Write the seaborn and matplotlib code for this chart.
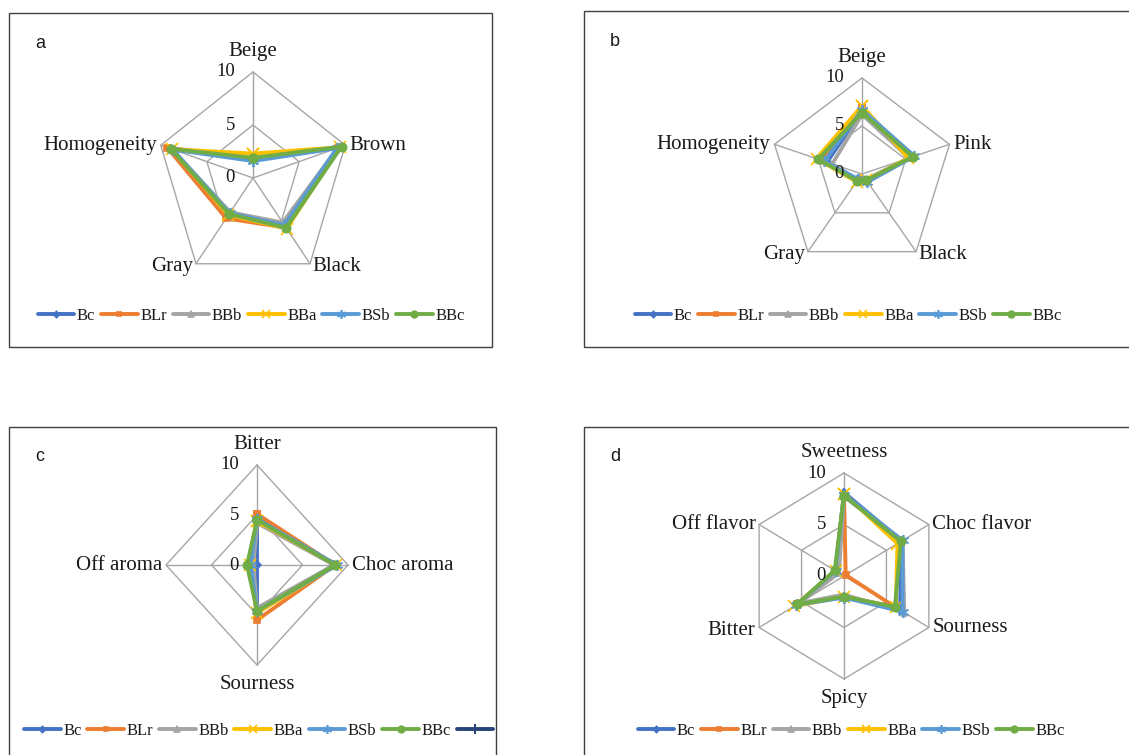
import numpy as np
import pandas as pd
import matplotlib
matplotlib.use('Agg')
import matplotlib.pyplot as plt
from matplotlib.lines import Line2D
from matplotlib.patches import Rectangle
import seaborn as sns

# samples, in Excel series order
samples = ['Bc', 'BLr', 'BBb', 'BBa', 'BSb', 'BBc']

# panel a - colour attributes
a_attrs = ['Beige', 'Brown', 'Black', 'Gray', 'Homogeneity']
a_Bc = [1.7, 9.3, 5.4, 4.2, 8.9]
a_BLr = [1.8, 9.2, 5.8, 4.7, 9.3]
a_BBb = [1.8, 9.2, 5.2, 4.0, 8.8]
a_BBa = [2.3, 9.4, 5.9, 4.3, 8.8]
a_BSb = [1.6, 9.1, 5.5, 4.1, 8.7]
a_BBc = [1.9, 9.6, 5.8, 4.2, 8.9]

# panel b
b_attrs = ['Beige', 'Pink', 'Black', 'Gray', 'Homogeneity']
b_Bc = [6.6, 5.6, 1.0, 0.7, 4.0]
b_BLr = [6.9, 5.5, 0.8, 0.8, 4.6]
b_BBb = [6.2, 5.4, 0.7, 0.8, 3.4]
b_BBa = [7.1, 5.3, 0.8, 1.0, 5.2]
b_BSb = [6.7, 6.0, 1.0, 0.7, 4.3]
b_BBc = [6.4, 5.8, 0.8, 0.9, 5.0]

# panel c - aroma
c_attrs = ['Bitter', 'Choc aroma', 'Sourness', 'Off aroma']
c_Bc = [4.7, 8.5, 4.5, 0.0]
c_BLr = [5.1, 8.6, 5.5, 0.6]
c_BBb = [4.2, 8.5, 4.3, 0.4]
c_BBa = [4.4, 8.7, 4.8, 0.8]
c_BSb = [4.6, 8.8, 4.6, 0.7]
c_BBc = [4.5, 8.6, 4.6, 1.1]

# panel d - flavour
d_attrs = ['Sweetness', 'Choc flavor', 'Sourness', 'Spicy', 'Bitter', 'Off flavor']
d_Bc = [8.1, 6.8, 6.6, 2.0, 5.5, 1.0]
d_BLr = [7.9, 0.2, 6.0, 2.0, 5.5, 1.0]
d_BBb = [7.7, 6.9, 7.1, 1.8, 5.3, 0.6]
d_BBa = [8.0, 6.3, 6.1, 2.0, 5.9, 1.0]
d_BSb = [7.9, 6.9, 6.9, 2.1, 5.6, 1.0]
d_BBc = [7.8, 6.7, 6.0, 2.0, 5.5, 1.1]

ticks = [0, 5, 10]

colors = {'Bc': '#4472C4', 'BLr': '#ED7D31', 'BBb': '#A5A5A5',
          'BBa': '#FFC000', 'BSb': '#5B9BD5', 'BBc': '#70AD47'}
markers = {'Bc': 'D', 'BLr': 's', 'BBb': '^', 'BBa': 'x', 'BSb': (6, 2, 0), 'BBc': 'o'}
msizes = {'Bc': 4, 'BLr': 4, 'BBb': 5, 'BBa': 8, 'BSb': 8, 'BBc': 6}

sns.set_theme(style='white')
plt.rcParams['font.family'] = ['Liberation Serif', 'DejaVu Serif']

W, H = 1129, 755
fig = plt.figure(figsize=(W / 100, H / 100), dpi=100)
GRID = '#A6A6A6'
TXT = '#1a1a1a'


def closed_df(vals):
    n = len(vals)
    th = [2 * np.pi * i / n for i in range(n)] + [2 * np.pi]
    return pd.DataFrame({'theta': th, 'value': list(vals) + [vals[0]]})


def radar(cx, cy, rx, ry, attrs, series, letter, box, leg_y, leg_x, extra=False):
    # panel frame
    x0, y0, x1, y1 = box
    fig.patches.append(Rectangle((x0 / W, 1 - y1 / H), (x1 - x0) / W, (y1 - y0) / H,
                                 transform=fig.transFigure, fill=False,
                                 edgecolor='#404040', lw=1.0))
    fig.text((x0 + 26) / W, 1 - (y0 + 30) / H, letter, family='Liberation Sans',
             fontsize=13, ha='left', va='center', color=TXT)

    ax = fig.add_axes([(cx - rx) / W, 1 - (cy + ry) / H, 2 * rx / W, 2 * ry / H],
                      projection='polar')
    ax.set_aspect('auto')
    ax.set_theta_zero_location('N')
    ax.set_theta_direction(-1)
    ax.grid(False)
    ax.spines['polar'].set_visible(False)
    ax.patch.set_alpha(0)

    n = len(attrs)
    th = [2 * np.pi * i / n for i in range(n)] + [2 * np.pi]
    for r in ticks[1:]:
        ax.plot(th, [r] * (n + 1), color=GRID, lw=1, clip_on=False, zorder=1)
    for t in th[:-1]:
        ax.plot([t, t], [0, 10], color=GRID, lw=1, clip_on=False, zorder=1)

    for s, vals in zip(samples, series):
        sns.lineplot(data=closed_df(vals), x='theta', y='value', sort=False,
                     estimator=None, color=colors[s], marker=markers[s], lw=2.8,
                     markersize=msizes[s], markeredgewidth=1.2,
                     markeredgecolor=colors[s], ax=ax, zorder=3, clip_on=False)
    ax.set_xlabel('')
    ax.set_ylabel('')
    ax.set_ylim(0, 10)
    ax.set_xticks([])
    ax.set_yticks([])

    for r in ticks:
        ax.annotate(str(r), (0, r), xytext=(-13, 0), textcoords='offset points',
                    ha='right', va='center', fontsize=13.5, color=TXT)
    for i, name in enumerate(attrs):
        t = 2 * np.pi * i / n
        sx, sy = np.sin(t), np.cos(t)
        ha = 'center' if abs(sx) < 0.2 else ('left' if sx > 0 else 'right')
        if abs(sx) < 0.2:
            va = 'bottom' if sy > 0 else 'top'
            off = (0, 8 if sy > 0 else -7)
        else:
            va = 'center'
            off = (3 * sx, 0 if sy > -0.5 else -2)
        ax.annotate(name, (t, 10), xytext=off,
                    textcoords='offset points', ha=ha, va=va, fontsize=15,
                    color=TXT, annotation_clip=False)

    handles = [Line2D([], [], color=colors[s], marker=markers[s], lw=2.8,
                      markersize=msizes[s] * 0.8, markeredgecolor=colors[s],
                      markeredgewidth=1.2) for s in samples]
    labels = list(samples)
    if extra:
        handles.append(Line2D([], [], color='#264478', marker='+', lw=2.8,
                              markersize=7, markeredgewidth=1.5))
        labels.append(' ')
    fig.legend(handles, labels, loc='center', bbox_to_anchor=(leg_x / W, 1 - leg_y / H),
               ncol=len(labels), frameon=False, fontsize=12, handlelength=2.2,
               handletextpad=0.15, columnspacing=0.35, borderaxespad=0,
               labelcolor=TXT)


radar(253, 178, 97, 106, a_attrs, [a_Bc, a_BLr, a_BBb, a_BBa, a_BSb, a_BBc],
      'a', (9, 13, 492, 347), 316, 251)
radar(862, 174, 92, 96, b_attrs, [b_Bc, b_BLr, b_BBb, b_BBa, b_BSb, b_BBc],
      'b', (584, 11, 1135, 347), 316, 848)
radar(257, 565, 91, 100, c_attrs, [c_Bc, c_BLr, c_BBb, c_BBa, c_BSb, c_BBc],
      'c', (9, 427, 496, 760), 731, 262, extra=True)
radar(844, 576, 98, 103, d_attrs, [d_Bc, d_BLr, d_BBb, d_BBa, d_BSb, d_BBc],
      'd', (584, 427, 1135, 760), 731, 851)

fig.savefig('out.png', dpi=100)
